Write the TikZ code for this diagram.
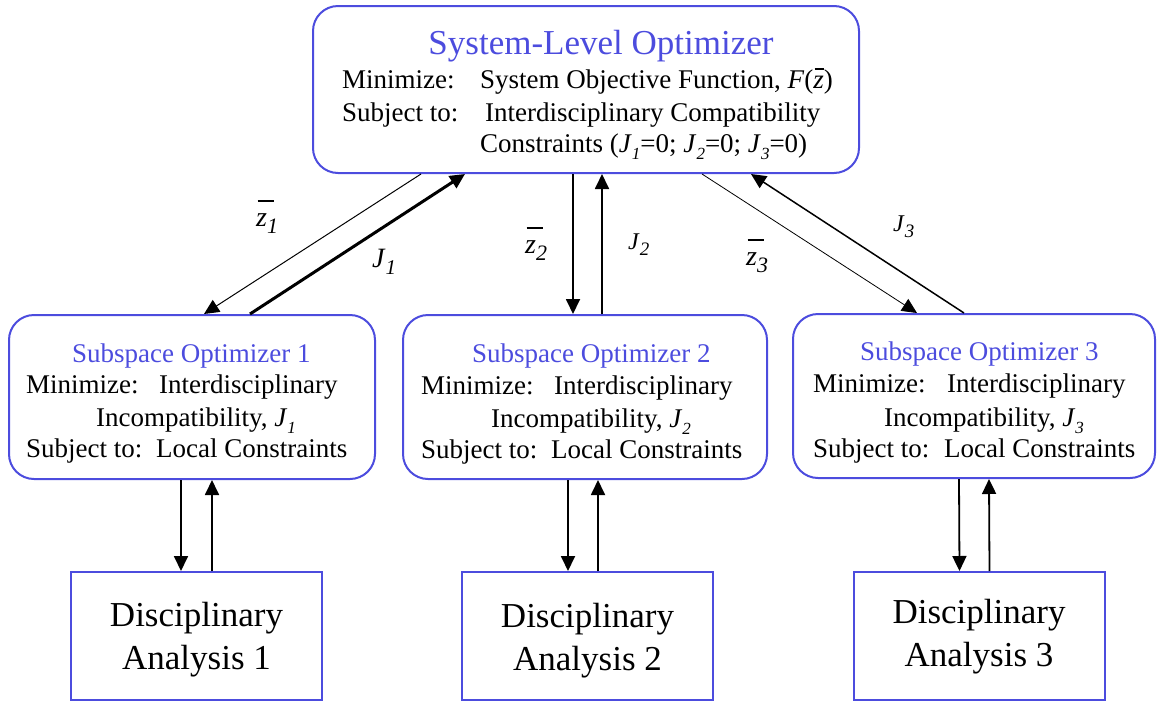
\documentclass[tikz,border=0pt]{standalone}
\usepackage{fontspec}
\setmainfont{Liberation Serif}
\usetikzlibrary{arrows.meta}
\definecolor{optblue}{RGB}{76,76,222}
% italic, lowered subscript of a given size
\newcommand\isub[2]{\raisebox{-0.28em}{\fontsize{#1}{#1}\selectfont\itshape #2}}
% barred z with a subscript, as used on the connectors
\newcommand\zlab[2]{\rlap{\hspace{0.05em}\rule[0.87em]{0.58em}{0.055em}}\textit{z}\isub{#1}{#2}}
% small barred z inside running text
\newcommand\zmac{\rlap{\hspace{0.05em}\rule[0.68em]{0.34em}{0.05em}}\textit{z}}

\begin{document}
\begin{tikzpicture}[x=1pt,y=-1pt,
  sysbox/.style={draw=optblue,line width=2pt,rounded corners=25pt,inner sep=0pt},
  dabox/.style={draw=optblue,line width=2pt,inner sep=0pt,minimum width=251pt,minimum height=128pt},
  txt/.style={anchor=base west,inner sep=0pt,font=\fontsize{27}{32}\selectfont},
  ttl/.style={anchor=base,inner sep=0pt,text=optblue,font=\fontsize{35}{40}\selectfont},
  datxt/.style={anchor=base,inner sep=0pt,font=\fontsize{35}{40}\selectfont},
  lab/.style={anchor=base west,inner sep=0pt,font=\fontsize{28}{32}\selectfont},
  labs/.style={anchor=base west,inner sep=0pt,font=\fontsize{24}{28}\selectfont},
  arr/.style={-{Triangle[length=15pt,width=14pt]}}
]
\useasboundingbox (0,0) rectangle (1157,702);

% boxes
\node[sysbox,minimum width=546pt,minimum height=167pt] (top) at (586,89.5) {};
\node[sysbox,minimum width=366pt,minimum height=164pt] (sub1) at (192,397) {};
\node[sysbox,minimum width=364pt,minimum height=164pt] (sub2) at (585,397) {};
\node[sysbox,minimum width=362pt,minimum height=164pt] (sub3) at (974,396) {};
\node[dabox] (da1) at (196.5,636) {};
\node[dabox] (da2) at (587.5,636) {};
\node[dabox] (da3) at (979,636) {};

% system-level optimizer text
\node[ttl] (toptitle) at (601,54) {System-Level Optimizer};
\node[txt] (topmin) at (342,88) {Minimize:};
\node[txt] (topobj) at (480,88) {System Objective Function, \textit{F}(\zmac)};
\node[txt] (topsub) at (342,121) {Subject to:};
\node[txt] (topcmp) at (485,121) {Interdisciplinary Compatibility};
\node[txt] (topcon) at (480,152) {Constraints (\textit{J}\isub{17}{1}=0; \textit{J}\isub{17}{2}=0; \textit{J}\isub{17}{3}=0)};

% subspace optimizer 1
\node[txt,text=optblue] (s1title) at (72,362) {Subspace Optimizer 1};
\node[txt] (s1min) at (26,393) {Minimize:};
\node[txt] (s1obj) at (159,393) {Interdisciplinary};
\node[txt] (s1inc) at (96,426) {Incompatibility, \textit{J}\isub{17}{1}};
\node[txt] (s1sub) at (26,457) {Subject to:};
\node[txt] (s1loc) at (156,457) {Local Constraints};

% subspace optimizer 2
\node[txt,text=optblue] (s2title) at (472,362) {Subspace Optimizer 2};
\node[txt] (s2min) at (421,394) {Minimize:};
\node[txt] (s2obj) at (554,394) {Interdisciplinary};
\node[txt] (s2inc) at (491,427) {Incompatibility, \textit{J}\isub{17}{2}};
\node[txt] (s2sub) at (421,458) {Subject to:};
\node[txt] (s2loc) at (551,458) {Local Constraints};

% subspace optimizer 3
\node[txt,text=optblue] (s3title) at (860,360) {Subspace Optimizer 3};
\node[txt] (s3min) at (813,392) {Minimize:};
\node[txt] (s3obj) at (947,392) {Interdisciplinary};
\node[txt] (s3inc) at (884,426) {Incompatibility, \textit{J}\isub{17}{3}};
\node[txt] (s3sub) at (813,457) {Subject to:};
\node[txt] (s3loc) at (944,457) {Local Constraints};

% disciplinary analyses
\node[datxt] (da1a) at (196.5,626) {Disciplinary};
\node[datxt] (da1b) at (196.5,669) {Analysis 1};
\node[datxt] (da2a) at (587.5,627) {Disciplinary};
\node[datxt] (da2b) at (587.5,670) {Analysis 2};
\node[datxt] (da3a) at (979,623) {Disciplinary};
\node[datxt] (da3b) at (979,666) {Analysis 3};

% system level <-> subspaces
\draw[arr,line width=1pt] ([xshift=109pt]top.south west) -- ([xshift=196pt]sub1.north west);
\draw[arr,line width=3pt] ([xshift=242pt]sub1.north west) -- ([xshift=153pt]top.south west);
\draw[arr,line width=1.8pt] ([xshift=261pt]top.south west) -- ([xshift=171pt]sub2.north west);
\draw[arr,line width=1.8pt] ([xshift=200pt]sub2.north west) -- ([xshift=290pt]top.south west);
\draw[arr,line width=0.8pt] ([xshift=390pt]top.south west) -- ([xshift=125pt]sub3.north west);
\draw[arr,line width=1.5pt] ([xshift=172pt]sub3.north west) -- ([xshift=439pt]top.south west);

% subspaces <-> analyses
\draw[arr,line width=1.8pt] ([xshift=173pt]sub1.south west) -- ([xshift=111pt]da1.north west);
\draw[arr,line width=1.8pt] ([xshift=142pt]da1.north west) -- ([xshift=204pt]sub1.south west);
\draw[arr,line width=1.8pt] ([xshift=166pt]sub2.south west) -- ([xshift=107pt]da2.north west);
\draw[arr,line width=1.8pt] ([xshift=137pt]da2.north west) -- ([xshift=196pt]sub2.south west);
\draw[arr,line width=1.8pt] ([xshift=167pt]sub3.south west) -- ([xshift=107pt]da3.north west);
\draw[arr,line width=1.8pt] ([xshift=137pt]da3.north west) -- ([xshift=197pt]sub3.south west);

% connector labels
\node[lab] (lz1) at (256,226) {\zlab{22}{1}};
\node[lab] (lj1) at (372,267) {\textit{J}\isub{21}{1}};
\node[lab] (lz2) at (525,253) {\zlab{22}{2}};
\node[labs] (lj2) at (628,249) {\textit{J}\isub{19}{2}};
\node[lab] (lz3) at (746,265) {\zlab{22}{3}};
\node[labs] (lj3) at (893,231) {\textit{J}\isub{19}{3}};
\end{tikzpicture}
\end{document}
